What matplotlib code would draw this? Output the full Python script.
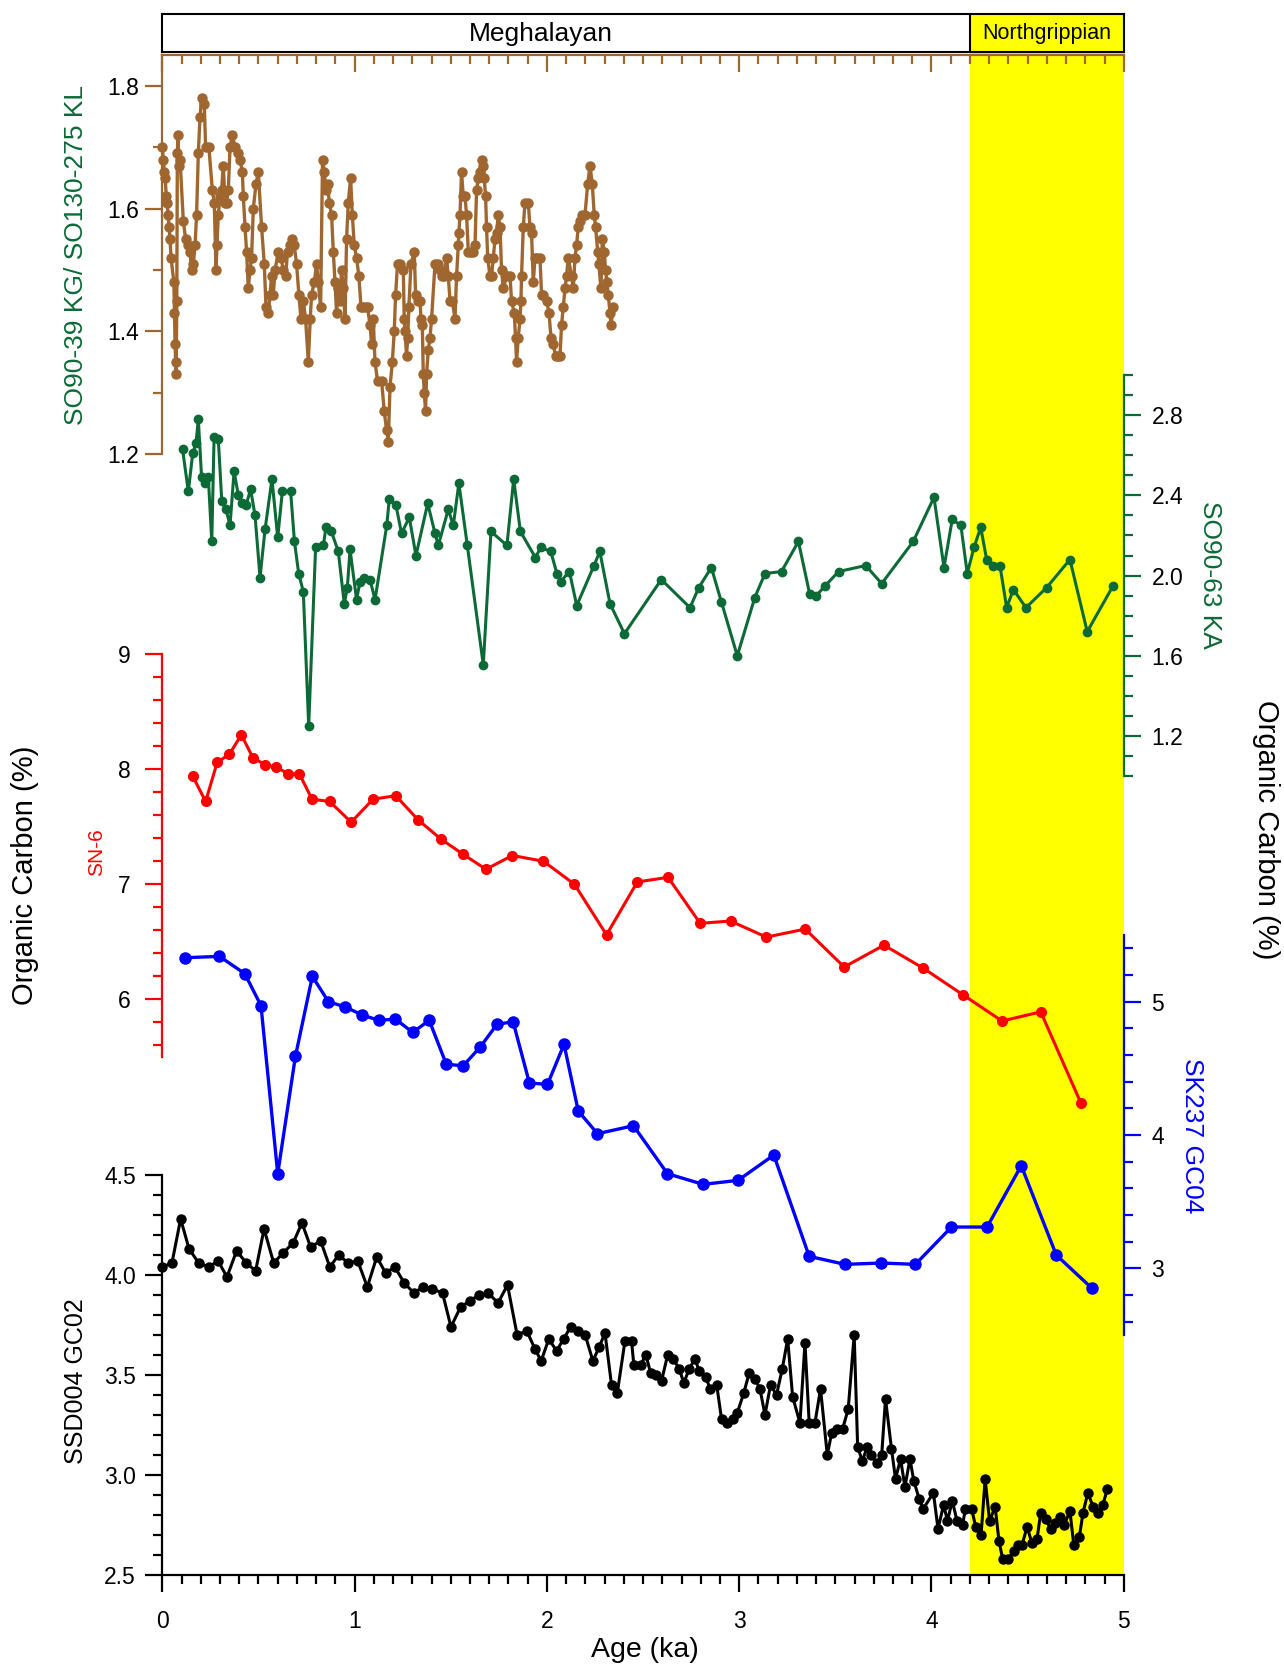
"""
    Organic carbon records, stacked panels on a common age axis
"""
import matplotlib
matplotlib.use('Agg')
import matplotlib.pyplot as plt
from matplotlib.ticker import MultipleLocator, FormatStrFormatter

plt.rcParams['font.family'] = ['Liberation Sans', 'DejaVu Sans']

# ---------------------------------------------------------------------
#   Data (age in ka, organic carbon in %)
# ---------------------------------------------------------------------

# SO90-39 KG / SO130-275 KL (brown)
brown_age = [0.000, 0.005, 0.010, 0.015, 0.020, 0.025, 0.030, 0.035, 0.040, 0.045,
             0.060, 0.063, 0.066, 0.069, 0.072, 0.075, 0.078, 0.081, 0.086, 0.092,
             0.109, 0.121, 0.131, 0.144, 0.152, 0.161, 0.170, 0.178, 0.187, 0.196,
             0.204, 0.218, 0.225, 0.242, 0.260, 0.270, 0.279, 0.284, 0.291, 0.300,
             0.308, 0.317, 0.326, 0.334, 0.343, 0.352, 0.364, 0.378, 0.391, 0.404,
             0.416, 0.421, 0.430, 0.438, 0.447, 0.456, 0.464, 0.473, 0.487, 0.499,
             0.516, 0.530, 0.539, 0.551, 0.560, 0.568, 0.577, 0.586, 0.603, 0.617,
             0.629, 0.641, 0.651, 0.664, 0.676, 0.686, 0.698, 0.710, 0.721, 0.733,
             0.745, 0.759, 0.769, 0.776, 0.790, 0.802, 0.811, 0.823, 0.833, 0.842,
             0.851, 0.860, 0.868, 0.880, 0.889, 0.898, 0.906, 0.915, 0.924, 0.932,
             0.941, 0.950, 0.958, 0.967, 0.979, 0.988, 0.998, 1.010, 1.022, 1.033,
             1.045, 1.057, 1.067, 1.080, 1.088, 1.097, 1.106, 1.119, 1.140, 1.154,
             1.166, 1.175, 1.184, 1.196, 1.206, 1.213, 1.223, 1.236, 1.253,
             1.258, 1.262, 1.270, 1.276, 1.282, 1.293, 1.310, 1.317, 1.328, 1.340,
             1.345, 1.352, 1.357, 1.362, 1.369, 1.374, 1.383, 1.392, 1.400, 1.418,
             1.432, 1.444, 1.452, 1.466, 1.478, 1.487, 1.496, 1.508, 1.522, 1.530,
             1.539, 1.542, 1.548, 1.556, 1.565, 1.574, 1.582, 1.591, 1.605, 1.617,
             1.626, 1.634, 1.643, 1.652, 1.660, 1.669, 1.674, 1.681, 1.686, 1.692,
             1.704, 1.712, 1.721, 1.730, 1.738, 1.747, 1.756, 1.764, 1.773, 1.790,
             1.808, 1.816, 1.830, 1.837, 1.842, 1.851, 1.860, 1.865, 1.868, 1.877,
             1.886, 1.903, 1.912, 1.920, 1.929, 1.938, 1.951, 1.964, 1.972, 1.981,
             1.998, 2.011, 2.021, 2.033, 2.045, 2.059, 2.068, 2.076, 2.085, 2.094,
             2.102, 2.111, 2.128, 2.137, 2.146, 2.154, 2.163, 2.172, 2.180, 2.198,
             2.212, 2.224, 2.236, 2.246, 2.253, 2.264, 2.270, 2.281, 2.288, 2.298,
             2.305, 2.312, 2.319, 2.328, 2.333, 2.345]
brown_toc = [1.70, 1.68, 1.66, 1.65, 1.62, 1.61, 1.59, 1.57, 1.55, 1.52,
             1.48, 1.43, 1.38, 1.35, 1.33, 1.45, 1.69, 1.72, 1.67, 1.68,
             1.58, 1.55, 1.54, 1.53, 1.50, 1.51, 1.54, 1.59, 1.69, 1.75,
             1.78, 1.77, 1.70, 1.70, 1.63, 1.61, 1.50, 1.54, 1.59, 1.62,
             1.63, 1.67, 1.61, 1.61, 1.63, 1.70, 1.72, 1.70, 1.69, 1.68,
             1.66, 1.62, 1.57, 1.53, 1.47, 1.50, 1.52, 1.60, 1.64, 1.66,
             1.57, 1.51, 1.44, 1.43, 1.46, 1.49, 1.46, 1.50, 1.53, 1.52,
             1.50, 1.49, 1.53, 1.54, 1.55, 1.54, 1.51, 1.46, 1.42, 1.45,
             1.42, 1.35, 1.42, 1.46, 1.48, 1.51, 1.48, 1.44, 1.68, 1.66,
             1.63, 1.64, 1.61, 1.59, 1.53, 1.48, 1.43, 1.47, 1.45, 1.50,
             1.47, 1.42, 1.55, 1.61, 1.65, 1.59, 1.54, 1.52, 1.49, 1.44,
             1.44, 1.44, 1.44, 1.41, 1.38, 1.42, 1.35, 1.32, 1.32, 1.27,
             1.24, 1.22, 1.31, 1.35, 1.40, 1.46, 1.51, 1.51, 1.50,
             1.42, 1.40, 1.36, 1.39, 1.44, 1.51, 1.53, 1.46, 1.45, 1.45,
             1.42, 1.41, 1.33, 1.30, 1.27, 1.33, 1.37, 1.39, 1.42, 1.51,
             1.51, 1.50, 1.49, 1.49, 1.52, 1.49, 1.45, 1.45, 1.42, 1.49,
             1.54, 1.56, 1.59, 1.66, 1.62, 1.62, 1.59, 1.53, 1.53, 1.53,
             1.54, 1.63, 1.65, 1.66, 1.68, 1.67, 1.65, 1.62, 1.57, 1.52,
             1.49, 1.49, 1.52, 1.55, 1.56, 1.59, 1.57, 1.50, 1.47, 1.49,
             1.49, 1.45, 1.43, 1.39, 1.35, 1.39, 1.42, 1.45, 1.49, 1.57,
             1.61, 1.61, 1.57, 1.56, 1.48, 1.52, 1.52, 1.52, 1.46, 1.46,
             1.45, 1.43, 1.39, 1.38, 1.36, 1.36, 1.36, 1.41, 1.44, 1.47,
             1.49, 1.52, 1.49, 1.47, 1.52, 1.54, 1.57, 1.58, 1.59, 1.59,
             1.64, 1.67, 1.64, 1.59, 1.57, 1.53, 1.51, 1.47, 1.55, 1.53,
             1.50, 1.48, 1.46, 1.43, 1.41, 1.44]

# SO90-63 KA (green)
green_age = [0.105, 0.135, 0.158, 0.175, 0.187, 0.204, 0.222, 0.239, 0.257, 0.269,
             0.291, 0.309, 0.331, 0.352, 0.373, 0.395, 0.412, 0.435, 0.459, 0.482,
             0.508, 0.534, 0.570, 0.600, 0.624, 0.667, 0.687, 0.709, 0.733, 0.761,
             0.797, 0.837, 0.851, 0.879, 0.915, 0.946, 0.962, 0.976, 1.010, 1.028,
             1.049, 1.080, 1.106, 1.167, 1.180, 1.215, 1.244, 1.284, 1.319, 1.380,
             1.418, 1.435, 1.487, 1.513, 1.542, 1.586, 1.669, 1.709, 1.792, 1.827,
             1.862, 1.940, 1.968, 2.020, 2.052, 2.071, 2.117, 2.155, 2.245, 2.275,
             2.328, 2.403, 2.595, 2.744, 2.790, 2.855, 2.907, 2.990, 3.081, 3.134,
             3.220, 3.308, 3.366, 3.401, 3.448, 3.517, 3.658, 3.741, 3.905, 4.013,
             4.065, 4.108, 4.153, 4.186, 4.221, 4.256, 4.287, 4.322, 4.356, 4.391,
             4.426, 4.491, 4.599, 4.720, 4.810, 4.945]
green_toc = [2.63, 2.42, 2.61, 2.66, 2.78, 2.49, 2.46, 2.49, 2.17, 2.69,
             2.68, 2.37, 2.33, 2.25, 2.52, 2.40, 2.36, 2.35, 2.43, 2.30,
             1.99, 2.23, 2.48, 2.19, 2.42, 2.42, 2.17, 2.01, 1.92, 1.25,
             2.14, 2.15, 2.24, 2.22, 2.12, 1.86, 1.94, 2.13, 1.88, 1.97,
             1.99, 1.98, 1.88, 2.25, 2.38, 2.35, 2.21, 2.29, 2.10, 2.36,
             2.21, 2.15, 2.33, 2.25, 2.46, 2.15, 1.555, 2.22, 2.15, 2.48,
             2.22, 2.09, 2.14, 2.12, 2.01, 1.97, 2.02, 1.85, 2.05, 2.12,
             1.86, 1.71, 1.98, 1.84, 1.94, 2.04, 1.87, 1.60, 1.89, 2.01,
             2.02, 2.17, 1.91, 1.90, 1.95, 2.02, 2.05, 1.96, 2.17, 2.39,
             2.04, 2.28, 2.25, 2.01, 2.14, 2.24, 2.08, 2.05, 2.05, 1.84,
             1.93, 1.84, 1.94, 2.08, 1.72, 1.95]

# SN-6 (red)
red_age = [0.158, 0.225, 0.285, 0.348, 0.411, 0.471, 0.534, 0.592, 0.655, 0.713,
           0.778, 0.870, 0.982, 1.096, 1.214, 1.330, 1.451, 1.565, 1.683, 1.820,
           1.982, 2.143, 2.310, 2.470, 2.630, 2.797, 2.955, 3.141, 3.343, 3.546,
           3.753, 3.957, 4.162, 4.367, 4.568, 4.776]
red_toc = [7.94, 7.72, 8.06, 8.13, 8.30, 8.10, 8.04, 8.02, 7.96, 7.96,
           7.74, 7.72, 7.54, 7.74, 7.77, 7.56, 7.39, 7.26, 7.13, 7.25,
           7.20, 7.00, 6.56, 7.02, 7.06, 6.66, 6.68, 6.54, 6.61, 6.28,
           6.47, 6.27, 6.04, 5.81, 5.89, 5.10]

# SK237 GC04 (blue)
blue_age = [0.120, 0.297, 0.429, 0.513, 0.600, 0.692, 0.780, 0.864, 0.952, 1.040,
            1.126, 1.212, 1.302, 1.388, 1.477, 1.565, 1.653, 1.740, 1.824, 1.909,
            2.003, 2.089, 2.163, 2.263, 2.450, 2.627, 2.812, 2.994, 3.180, 3.364,
            3.550, 3.740, 3.916, 4.104, 4.289, 4.467, 4.649, 4.835]
blue_toc = [5.33, 5.34, 5.21, 4.97, 3.71, 4.59, 5.19, 5.00, 4.96, 4.90,
            4.86, 4.87, 4.77, 4.86, 4.53, 4.52, 4.66, 4.83, 4.85, 4.39,
            4.38, 4.68, 4.18, 4.01, 4.07, 3.71, 3.63, 3.66, 3.85, 3.09,
            3.03, 3.04, 3.03, 3.31, 3.31, 3.77, 3.10, 2.85]

# SSD004 GC02 (black)
black_age = [0.000, 0.050, 0.095, 0.139, 0.189, 0.241, 0.290, 0.336, 0.386, 0.437,
             0.485, 0.529, 0.579, 0.628, 0.680, 0.726, 0.771, 0.823, 0.871, 0.917,
             0.966, 1.016, 1.066, 1.115, 1.161, 1.209, 1.258, 1.308, 1.356, 1.404,
             1.457, 1.501, 1.551, 1.600, 1.646, 1.694, 1.746, 1.795, 1.845, 1.895,
             1.938, 1.970, 2.010, 2.050, 2.087, 2.123, 2.163, 2.199, 2.239, 2.272,
             2.302, 2.336, 2.366,
             2.406, 2.440, 2.452, 2.487, 2.515, 2.539, 2.565, 2.596, 2.628, 2.657,
             2.688, 2.712, 2.740, 2.770, 2.792, 2.827, 2.848, 2.883, 2.908, 2.934,
             2.966, 2.990, 3.024, 3.052, 3.082, 3.108, 3.134, 3.163, 3.194, 3.224,
             3.252, 3.278, 3.316, 3.342, 3.364, 3.394, 3.423, 3.458, 3.481, 3.510,
             3.538, 3.567, 3.598, 3.616, 3.640, 3.666, 3.688, 3.715, 3.741, 3.761,
             3.792, 3.813, 3.839, 3.862, 3.888, 3.908, 3.936, 3.957,
             4.010, 4.034, 4.063, 4.083, 4.108, 4.133, 4.162, 4.176, 4.209, 4.230,
             4.258, 4.279, 4.302, 4.331, 4.351, 4.370, 4.399, 4.429, 4.448, 4.471,
             4.497, 4.522, 4.549, 4.568, 4.594, 4.619, 4.642, 4.668, 4.691, 4.720,
             4.740, 4.769, 4.788, 4.813, 4.841, 4.866, 4.891, 4.915]
black_toc = [4.04, 4.06, 4.28, 4.13, 4.06, 4.04, 4.07, 3.99, 4.12, 4.06,
             4.02, 4.23, 4.06, 4.11, 4.16, 4.26, 4.14, 4.17, 4.04, 4.10,
             4.06, 4.07, 3.94, 4.09, 4.01, 4.04, 3.96, 3.91, 3.94, 3.93,
             3.91, 3.74, 3.84, 3.87, 3.90, 3.91, 3.86, 3.95, 3.70, 3.72,
             3.63, 3.57, 3.68, 3.62, 3.68, 3.74, 3.72, 3.70, 3.57, 3.64,
             3.71, 3.45, 3.41,
             3.67, 3.67, 3.55, 3.55, 3.60, 3.51, 3.50, 3.47, 3.60, 3.58,
             3.53, 3.46, 3.53, 3.58, 3.52, 3.49, 3.43, 3.45, 3.28, 3.26,
             3.28, 3.31, 3.41, 3.51, 3.48, 3.43, 3.30, 3.45, 3.40, 3.53,
             3.68, 3.39, 3.26, 3.66, 3.26, 3.26, 3.43, 3.10, 3.21, 3.23,
             3.23, 3.33, 3.70, 3.14, 3.07, 3.14, 3.10, 3.06, 3.10, 3.38,
             3.13, 2.98, 3.08, 2.94, 3.08, 2.97, 2.88, 2.83,
             2.91, 2.73, 2.85, 2.77, 2.87, 2.77, 2.75, 2.83, 2.83, 2.74,
             2.70, 2.98, 2.77, 2.84, 2.67, 2.58, 2.58, 2.62, 2.65, 2.65,
             2.74, 2.66, 2.68, 2.81, 2.78, 2.73, 2.76, 2.79, 2.75, 2.82,
             2.65, 2.69, 2.81, 2.91, 2.84, 2.81, 2.85, 2.93]

# Chronostratigraphic stages
stage_names = ['Meghalayan', 'Northgrippian']
stage_bounds = [0.0, 4.2, 5.0]

# ---------------------------------------------------------------------
#   Plot
# ---------------------------------------------------------------------
BROWN = '#A0662F'
GREEN = '#0B6A36'
RED = '#FF0000'
BLUE = '#0000FF'
YELLOW = '#FFFF00'

W, H = 1210.0, 1568.0
X0, X1 = 153.0, 1059.0
TICK_FS = 16.5


def rect(top, bottom):
    # axes box from pixel rows (reference layout)
    return [X0 / W, 1 - bottom / H, (X1 - X0) / W, (bottom - top) / H]


fig = plt.figure(figsize=(12.84, 16.64), dpi=100)

# yellow background for the Northgrippian
ax_bg = fig.add_axes(rect(49, 1484))
ax_bg.set_xlim(0, 5)
ax_bg.axvspan(stage_bounds[1], stage_bounds[2], color=YELLOW, lw=0)
ax_bg.axis('off')

# stage band on top
ax_st = fig.add_axes(rect(13, 49))
ax_st.set_xlim(0, 5)
ax_st.set_ylim(0, 1)
ax_st.axvspan(stage_bounds[1], stage_bounds[2], color=YELLOW, lw=0)
ax_st.axvline(stage_bounds[1], color='black', lw=1.5)
ax_st.set_xticks([])
ax_st.set_yticks([])
for s in ax_st.spines.values():
    s.set_linewidth(1.5)
ax_st.text(1.97, 0.48, stage_names[0], ha='center', va='center', fontsize=19)
ax_st.text(4.6, 0.48, stage_names[1], ha='center', va='center', fontsize=15.5)


def panel(box, ylim, side, color, major, minor, fmt, pad):
    ax = fig.add_axes(box)
    ax.patch.set_visible(False)
    ax.set_xlim(0, 5)
    ax.set_ylim(*ylim)
    for s in ax.spines.values():
        s.set_visible(False)
    ax.spines[side].set_visible(True)
    ax.spines[side].set_color(color)
    ax.spines[side].set_linewidth(1.6)
    ax.yaxis.set_ticks_position(side)
    ax.yaxis.set_major_locator(MultipleLocator(major))
    ax.yaxis.set_minor_locator(MultipleLocator(minor))
    ax.yaxis.set_major_formatter(FormatStrFormatter(fmt))
    ax.tick_params(axis='y', which='both', direction='out', color=color,
                   width=1.6, labelsize=TICK_FS, labelcolor='black', pad=pad)
    ax.tick_params(axis='y', which='major', length=12)
    ax.tick_params(axis='y', which='minor', length=6.5)
    ax.tick_params(axis='x', which='both', bottom=False, top=False,
                   labelbottom=False, labeltop=False)
    return ax


ax_brown = panel(rect(52, 428), (1.2, 1.85), 'left', BROWN, 0.2, 0.1, '%.1f', 5)
ax_green = panel(rect(353.4, 731.3), (1.0, 3.0), 'right', GREEN, 0.4, 0.1, '%.1f', 8)
ax_red = panel(rect(616.6, 995.7), (5.5, 9.0), 'left', RED, 1, 0.2, '%d', 11)
ax_blue = panel(rect(881.1, 1258), (2.5, 5.5), 'right', BLUE, 1, 0.2, '%d', 8)
ax_black = panel(rect(1107.2, 1484), (2.5, 4.5), 'left', 'black', 0.5, 0.1, '%.1f', 7)

# brown top age axis (ticks pointing down)
ax_brown.spines['top'].set_visible(True)
ax_brown.spines['top'].set_color(BROWN)
ax_brown.spines['top'].set_linewidth(1.6)
ax_brown.xaxis.set_major_locator(MultipleLocator(1))
ax_brown.xaxis.set_minor_locator(MultipleLocator(0.1))
ax_brown.tick_params(axis='x', which='both', top=True, direction='in',
                     color=BROWN, width=1.6)
ax_brown.tick_params(axis='x', which='major', length=12)
ax_brown.tick_params(axis='x', which='minor', length=6.5)

# black bottom age axis
ax_black.spines['bottom'].set_visible(True)
ax_black.spines['bottom'].set_linewidth(1.6)
ax_black.xaxis.set_major_locator(MultipleLocator(1))
ax_black.xaxis.set_minor_locator(MultipleLocator(0.1))
ax_black.tick_params(axis='x', which='both', bottom=True, labelbottom=True,
                     direction='out', width=1.6, labelsize=TICK_FS, pad=13)
ax_black.tick_params(axis='x', which='major', length=12)
ax_black.tick_params(axis='x', which='minor', length=6.5)

# series
ax_brown.plot(brown_age, brown_toc, '-o', color=BROWN, lw=2.4, ms=6.5, clip_on=False)
ax_green.plot(green_age, green_toc, '-o', color=GREEN, lw=2.2, ms=6, clip_on=False)
ax_red.plot(red_age, red_toc, '-o', color=RED, lw=2.2, ms=7, clip_on=False)
ax_blue.plot(blue_age, blue_toc, '-o', color=BLUE, lw=2.4, ms=8, clip_on=False)
ax_black.plot(black_age, black_toc, '-o', color='black', lw=2.2, ms=6.5, clip_on=False)

# labels
fig.text(72 / W, 1 - 240 / H, 'SO90-39 KG/ SO130-275 KL', color=GREEN, fontsize=19,
         rotation=90, ha='center', va='center')
fig.text(1140 / W, 1 - 541.8 / H, 'SO90-63 KA', color=GREEN, fontsize=19,
         rotation=270, ha='center', va='center')
fig.text(91 / W, 1 - 802.6 / H, 'SN-6', color=RED, fontsize=15,
         rotation=90, ha='center', va='center')
fig.text(1123 / W, 1 - 1070.3 / H, 'SK237 GC04', color=BLUE, fontsize=19,
         rotation=270, ha='center', va='center')
fig.text(72 / W, 1 - 1301 / H, 'SSD004 GC02', color='black', fontsize=18,
         rotation=90, ha='center', va='center')
fig.text(23.6 / W, 1 - 825 / H, 'Organic Carbon (%)', fontsize=21,
         rotation=90, ha='center', va='center')
fig.text(1193 / W, 1 - 782 / H, 'Organic Carbon (%)', fontsize=21,
         rotation=270, ha='center', va='center')
fig.text(608 / W, 1 - 1555 / H, 'Age (ka)', fontsize=20.5, ha='center', va='center')

fig.savefig('out.png', dpi=100)
